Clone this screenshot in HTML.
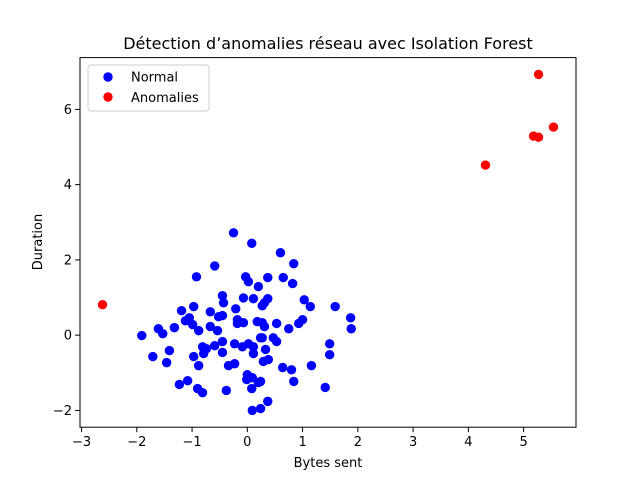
<!DOCTYPE html>
<html><head><meta charset="utf-8"><style>
html,body{margin:0;padding:0;background:#fff;}
svg{display:block;font-family:"DejaVu Sans","Liberation Sans",sans-serif;}
</style></head><body>
<svg id="chart" width="640" height="480" viewBox="0 0 640 480" xmlns="http://www.w3.org/2000/svg">
<rect width="640" height="480" fill="#fff"/>
<text x="328" y="49" text-anchor="middle" font-size="16">Détection d’anomalies réseau avec Isolation Forest</text>
<g id="marks"></g>
<rect x="80" y="57.6" width="496" height="369.6" fill="none" stroke="#000" stroke-width="1"/>
<g id="xticks"></g><g id="yticks"></g>
<text x="328" y="467" text-anchor="middle" font-size="13">Bytes sent</text>
<text transform="translate(42,242) rotate(-90)" text-anchor="middle" font-size="13">Duration</text>
<g>
<rect x="88" y="65" width="121" height="46" rx="3" fill="#fff" fill-opacity="0.8" stroke="#ccc"/>
<circle cx="108" cy="77" r="4.7" fill="#0000ff"/>
<text x="131" y="81.5" font-size="13">Normal</text>
<circle cx="108" cy="97" r="4.7" fill="#ff0000"/>
<text x="131" y="102" font-size="13">Anomalies</text>
</g>
</svg>
<script>
const normalX=[-0.25,0.08,-0.59,-0.92,-0.03,0.02,0.20,-0.45,-0.43,-0.07,0.11,-0.97,-1.19,-0.67,-0.21,-0.52,-0.45,-1.05,-1.12,-0.99,-0.88,-1.32,-1.61,-1.53,-1.91,-0.67,-0.54,-0.18,-0.07,-0.18,0.18,-0.81,-0.74,-0.79,-0.59,-0.45,-0.45,-0.23,-0.09,0.02,0.11,0.11,0.24,-0.97,-0.88,-0.34,-0.23,-1.41,-1.71,-1.46,-1.23,-1.08,-0.90,-0.81,-0.38,0.00,-0.01,0.09,0.08,0.09,0.24,0.20,0.60,0.84,0.37,0.65,0.82,0.37,0.27,0.31,1.03,1.14,1.59,1.87,1.88,0.31,0.27,0.53,0.75,0.93,1.00,0.27,0.47,0.53,0.33,1.49,1.49,0.29,0.38,0.64,0.80,1.16,0.24,0.84,1.41,0.37];
const normalY=[2.72,2.44,1.84,1.55,1.55,1.42,1.29,1.05,0.86,0.99,0.97,0.76,0.65,0.62,0.70,0.49,0.52,0.46,0.38,0.28,0.12,0.20,0.17,0.04,-0.01,0.23,0.12,0.41,0.33,0.31,0.36,-0.31,-0.36,-0.49,-0.28,-0.17,-0.46,-0.23,-0.31,-0.23,-0.31,-0.49,-0.07,-0.57,-0.81,-0.81,-0.76,-0.41,-0.57,-0.73,-1.31,-1.21,-1.42,-1.53,-1.47,-1.05,-1.18,-1.13,-1.42,-2.00,-1.95,-1.26,2.19,1.90,1.53,1.53,1.37,0.97,0.78,0.86,0.94,0.76,0.76,0.46,0.17,0.23,0.33,0.31,0.17,0.31,0.41,-0.07,-0.07,-0.17,-0.38,-0.23,-0.52,-0.70,-0.65,-0.86,-0.92,-0.81,-1.23,-1.23,-1.39,-1.76];
const anomX=[-2.62,4.31,5.18,5.27,5.27,5.54];
const anomY=[0.81,4.52,5.29,5.26,6.93,5.53];
const xTickVals=[-3,-2,-1,0,1,2,3,4,5];
const yTickVals=[-2,0,2,4,6];

const NS="http://www.w3.org/2000/svg";
const L=80,R=576,T=57.6,B=427.2;
const allX=normalX.concat(anomX), allY=normalY.concat(anomY);
const xmn=Math.min(...allX),xmx=Math.max(...allX),ymn=Math.min(...allY),ymx=Math.max(...allY);
const x0=xmn-(xmx-xmn)*0.05,x1=xmx+(xmx-xmn)*0.05,y0=ymn-(ymx-ymn)*0.05,y1=ymx+(ymx-ymn)*0.05;
function sx(v){return L+(v-x0)/(x1-x0)*(R-L);}
function sy(v){return B-(v-y0)/(y1-y0)*(B-T);}
const marks=document.getElementById('marks');
function pts(xs,ys,color,name){
  for(let i=0;i<xs.length;i++){
    const c=document.createElementNS(NS,'circle');
    c.setAttribute('cx',sx(xs[i]));c.setAttribute('cy',sy(ys[i]));
    c.setAttribute('r',4.7);c.setAttribute('fill',color);
    
    
    marks.appendChild(c);
  }
}
pts(normalX,normalY,'#0000ff','normal-point');
pts(anomX,anomY,'#ff0000','anomaly-point');
function fmt(v){return v<0?'\u2212'+Math.abs(v):String(v);}
const xg=document.getElementById('xticks');
xTickVals.forEach(v=>{
  const x=sx(v);
  const l=document.createElementNS(NS,'line');
  l.setAttribute('x1',x);l.setAttribute('x2',x);l.setAttribute('y1',B);l.setAttribute('y2',B+4.9);l.setAttribute('stroke','#000');
  
  
  xg.appendChild(l);
  const t=document.createElementNS(NS,'text');
  t.setAttribute('x',x);t.setAttribute('y',B+19);t.setAttribute('text-anchor','middle');t.setAttribute('font-size','13');
  t.textContent=fmt(v);
  
  
  xg.appendChild(t);
});
const yg=document.getElementById('yticks');
yTickVals.forEach(v=>{
  const y=sy(v);
  const l=document.createElementNS(NS,'line');
  l.setAttribute('x1',L-4.9);l.setAttribute('x2',L);l.setAttribute('y1',y);l.setAttribute('y2',y);l.setAttribute('stroke','#000');
  
  
  yg.appendChild(l);
  const t=document.createElementNS(NS,'text');
  t.setAttribute('x',L-8);t.setAttribute('y',y+4.5);t.setAttribute('text-anchor','end');t.setAttribute('font-size','13');
  t.textContent=fmt(v);
  
  
  yg.appendChild(t);
});
</script>
</body></html>
